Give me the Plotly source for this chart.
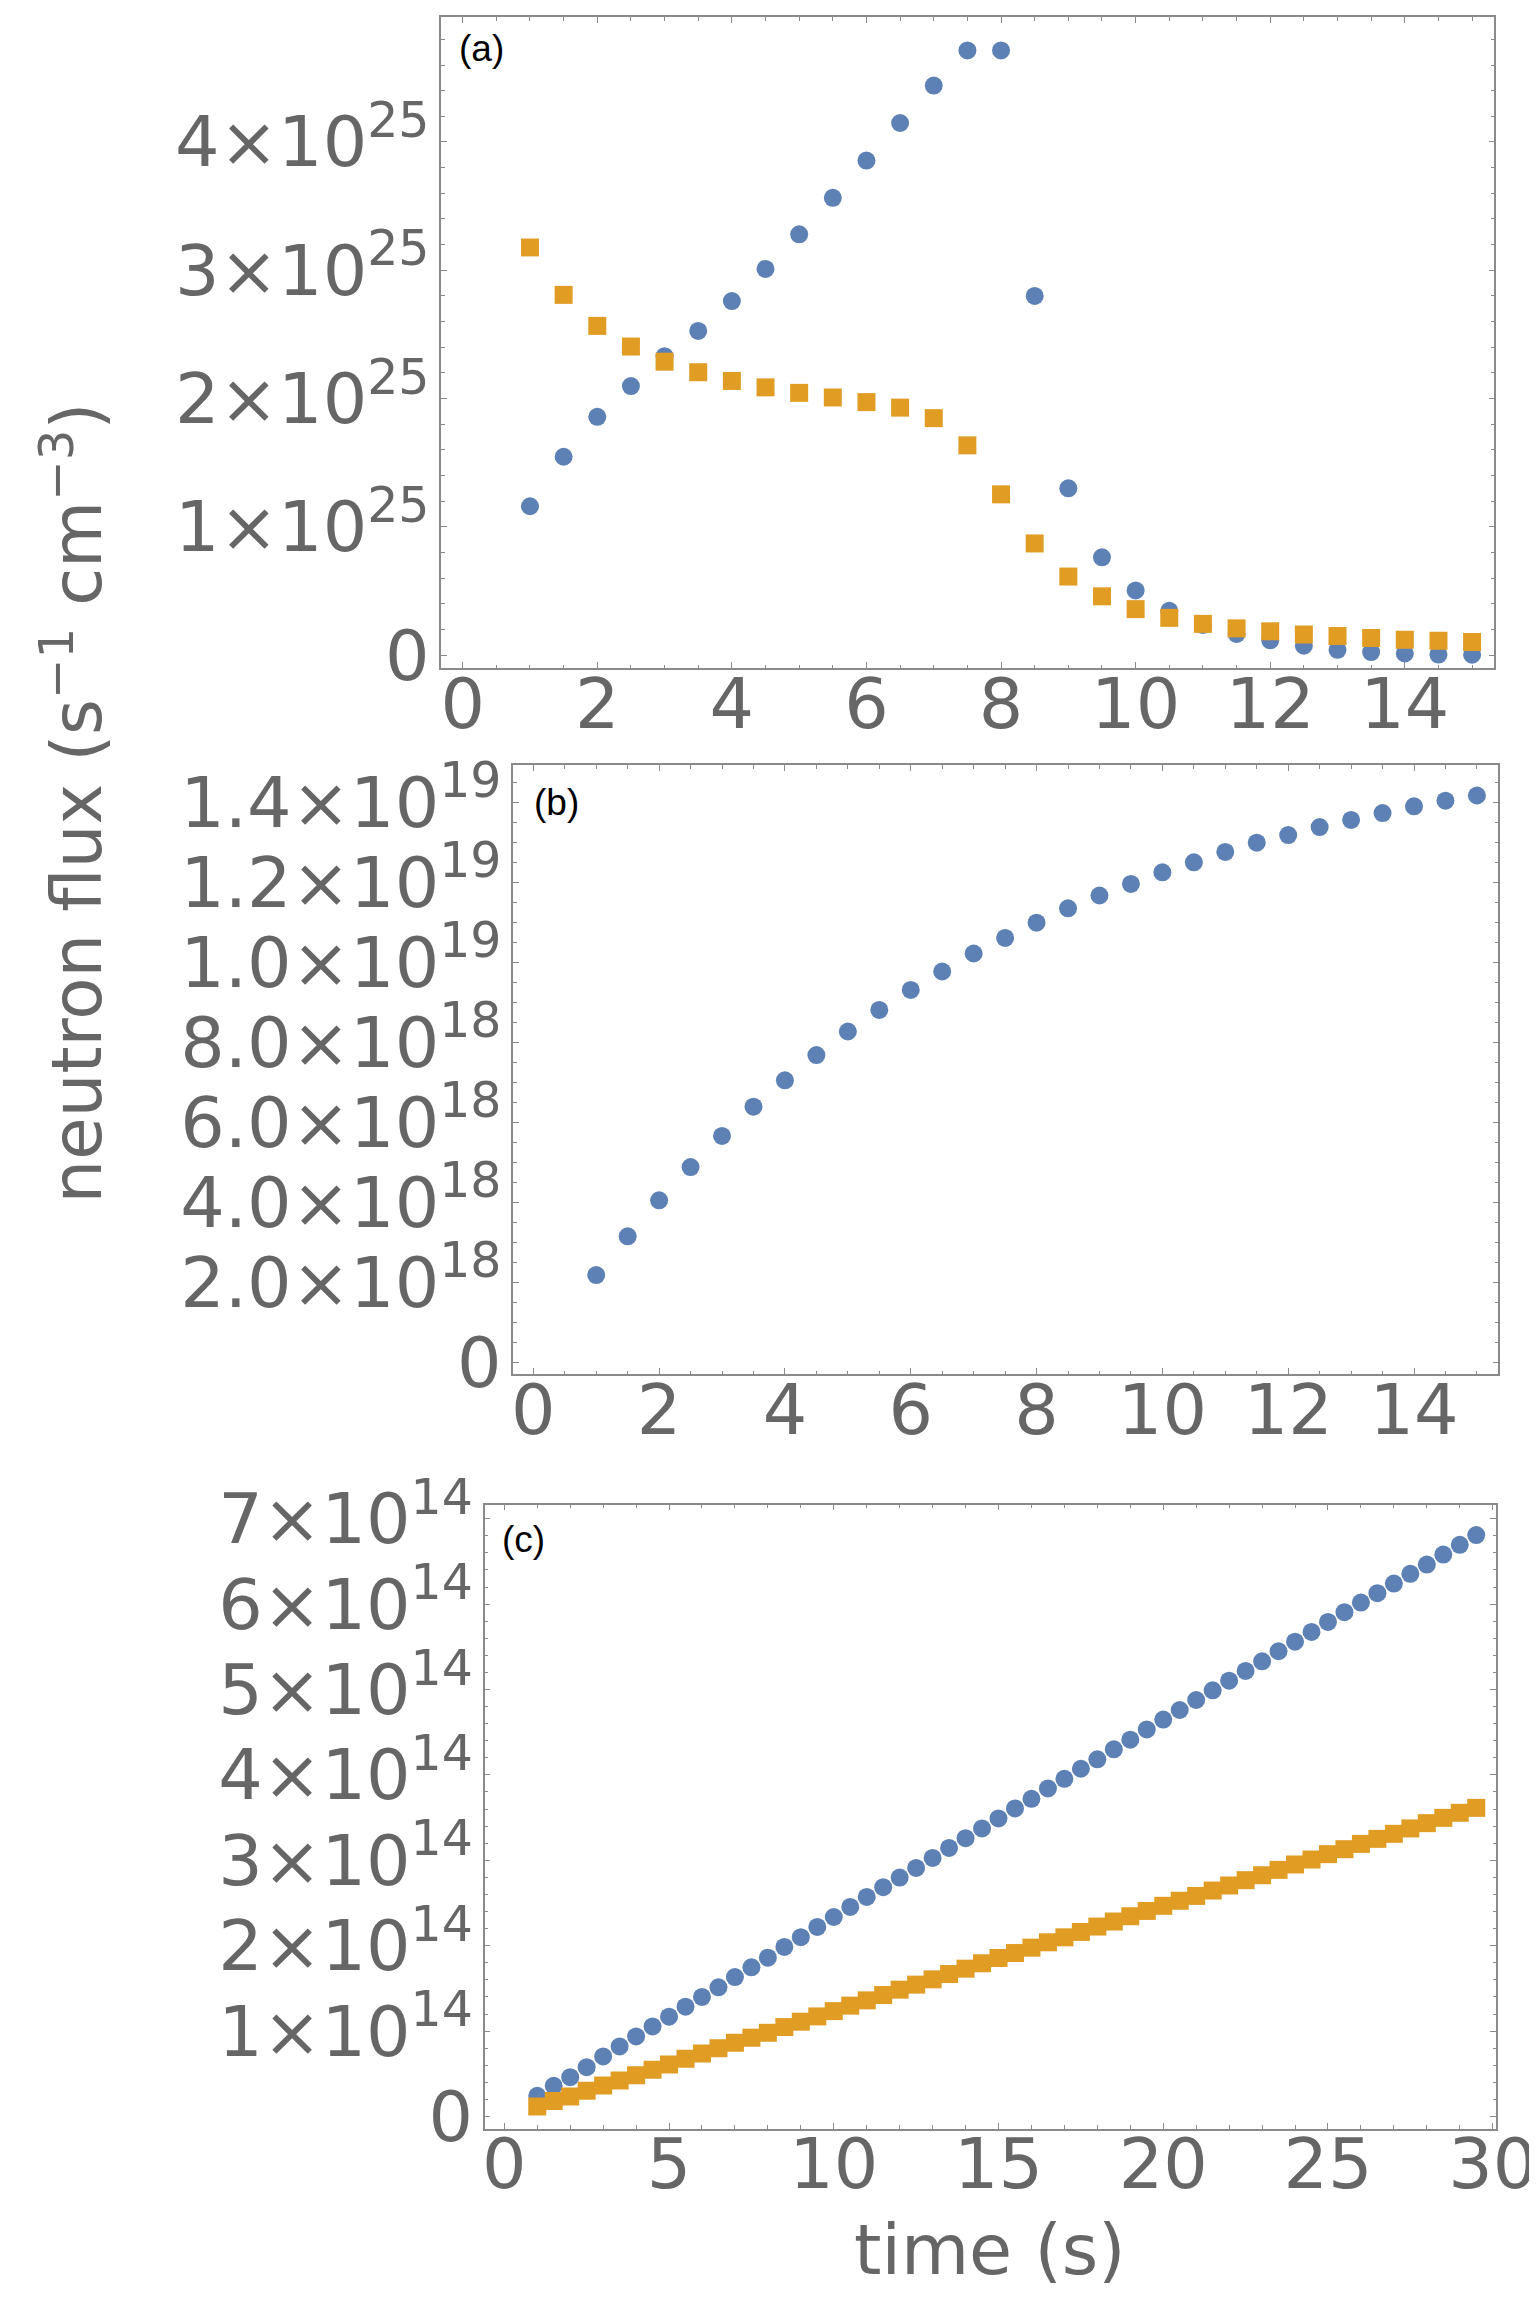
import plotly.graph_objects as go

W, H = 1537, 2303

# ---------------- data ----------------
t_ab = [1 + 0.5 * i for i in range(29)]  # 1 .. 15 s
# panel (a)  (units of 1e25)
a_blue = [1.16, 1.546, 1.857, 2.097, 2.33, 2.527, 2.76, 3.01, 3.28, 3.565, 3.855, 4.148,
          4.44, 4.714, 4.714, 2.80, 1.30, 0.762, 0.504, 0.345, 0.235, 0.165, 0.115, 0.073,
          0.041, 0.023, 0.012, 0.004, 0.003]
a_orange = [3.178, 2.808, 2.566, 2.405, 2.287, 2.205, 2.137, 2.087, 2.044, 2.008, 1.972,
            1.929, 1.847, 1.635, 1.253, 0.87, 0.612, 0.458, 0.358, 0.29, 0.243, 0.208,
            0.185, 0.161, 0.148, 0.132, 0.119, 0.111, 0.101]
# panel (b)  (units of 1e18)
b_blue = [2.18, 3.15, 4.05, 4.88, 5.66, 6.39, 7.05, 7.68, 8.27, 8.81, 9.31, 9.77, 10.22,
          10.61, 10.99, 11.35, 11.67, 11.96, 12.25, 12.5, 12.76, 12.99, 13.18, 13.38,
          13.56, 13.73, 13.9, 14.04, 14.17]
# panel (c)  (units of 1e14)
t_c = [1 + 0.5 * i for i in range(58)]  # 1 .. 29.5 s
c_blue = [0.243, 0.36, 0.46, 0.578, 0.703, 0.82, 0.938, 1.055, 1.169, 1.286, 1.40, 1.512,
          1.633, 1.747, 1.86, 1.985, 2.10,
          2.22, 2.336, 2.454, 2.571, 2.685, 2.798, 2.911, 3.028, 3.145, 3.259, 3.373, 3.49,
          3.607, 3.72, 3.842, 3.954, 4.072, 4.182, 4.299, 4.412, 4.533, 4.648,
          4.76, 4.877, 4.99, 5.103, 5.217, 5.33, 5.448, 5.56, 5.674, 5.791, 5.905, 6.018,
          6.128, 6.24, 6.354, 6.463, 6.58, 6.694, 6.808]
c_orange = [0.117, 0.18, 0.234, 0.30, 0.363, 0.422, 0.484, 0.547, 0.61, 0.676, 0.739, 0.80,
            0.864, 0.923, 0.98, 1.047, 1.11,
            1.172, 1.234, 1.298, 1.36, 1.422, 1.485, 1.544, 1.606, 1.668, 1.731, 1.794,
            1.856, 1.914, 1.977, 2.04, 2.098, 2.161, 2.224, 2.283, 2.345, 2.407, 2.467,
            2.526, 2.583, 2.646, 2.705, 2.767, 2.825, 2.888, 2.951, 3.009, 3.072, 3.13,
            3.192, 3.251, 3.31, 3.373, 3.435, 3.497, 3.556, 3.614]

# tick labels
a_yticks = [0, 1e25, 2e25, 3e25, 4e25]
a_ytext = ["0", "1×10<sup>25</sup>", "2×10<sup>25</sup>", "3×10<sup>25</sup>", "4×10<sup>25</sup>"]
b_yticks = [0, 2e18, 4e18, 6e18, 8e18, 1e19, 1.2e19, 1.4e19]
b_ytext = ["0", "2.0×10<sup>18</sup>", "4.0×10<sup>18</sup>", "6.0×10<sup>18</sup>",
           "8.0×10<sup>18</sup>", "1.0×10<sup>19</sup>", "1.2×10<sup>19</sup>", "1.4×10<sup>19</sup>"]
c_yticks = [0, 1e14, 2e14, 3e14, 4e14, 5e14, 6e14, 7e14]
c_ytext = ["0"] + [f"{k}×10<sup>14</sup>" for k in range(1, 8)]

BLUE = "#5E81B5"
ORANGE = "#E19C24"
GRAY_TXT = "#666666"
FRAME = "#8a8a8a"
TICKFONT = dict(family="DejaVu Sans", size=70, color=GRAY_TXT)

fig = go.Figure()

def mk(x, y, color, symbol, xa, ya):
    return go.Scatter(x=x, y=y, mode="markers", xaxis=xa, yaxis=ya, showlegend=False,
                      marker=dict(color=color, symbol=symbol, size=18, line=dict(width=0)))

fig.add_trace(mk(t_ab, [v * 1e25 for v in a_blue], BLUE, "circle", "x", "y"))
fig.add_trace(mk(t_ab, [v * 1e25 for v in a_orange], ORANGE, "square", "x", "y"))
fig.add_trace(mk(t_ab, [v * 1e18 for v in b_blue], BLUE, "circle", "x2", "y2"))
fig.add_trace(mk(t_c, [v * 1e14 for v in c_blue], BLUE, "circle", "x3", "y3"))
fig.add_trace(mk(t_c, [v * 1e14 for v in c_orange], ORANGE, "square", "x3", "y3"))

def xdom(l, r):
    return [l / W, r / W]

def ydom(t, b):
    return [1 - b / H, 1 - t / H]

def xaxis(dom, rng, dtick, mdtick, anchor):
    return dict(domain=dom, range=rng, anchor=anchor, tickmode="linear", tick0=0, dtick=dtick,
                ticks="inside", ticklen=6, tickwidth=1.2, tickcolor=FRAME, automargin=False,
                showline=True, linecolor=FRAME, linewidth=1.5, mirror="allticks",
                showgrid=False, zeroline=False, tickfont=TICKFONT, ticklabelstandoff=-26,
                minor=dict(dtick=mdtick, tick0=0, ticks="inside", ticklen=3.5,
                           tickwidth=1, tickcolor=FRAME, showgrid=False))

def yaxis(dom, rng, vals, text, mdtick, anchor):
    return dict(domain=dom, range=rng, anchor=anchor, tickmode="array", tickvals=vals,
                ticktext=text, ticks="inside", ticklen=6, tickwidth=1.2, tickcolor=FRAME,
                automargin=False,
                showline=True, linecolor=FRAME, linewidth=1.5, mirror="allticks",
                showgrid=False, zeroline=False, tickfont=TICKFONT, ticklabelstandoff=-4,
                minor=dict(dtick=mdtick, tick0=0, ticks="inside", ticklen=3.5,
                           tickwidth=1, tickcolor=FRAME, showgrid=False))

fig.update_layout(
    width=W, height=H, autosize=False,
    margin=dict(l=0, r=0, t=0, b=0, pad=0),
    paper_bgcolor="white", plot_bgcolor="white",
    xaxis=xaxis(xdom(433.3, 1486.3), [-0.318, 15.33], 2, 0.5, "y"),
    yaxis=yaxis(ydom(9.3, 660), [-0.101e25, 4.972e25], a_yticks, a_ytext, 0.2e25, "x"),
    xaxis2=xaxis(xdom(505.3, 1490.3), [-0.318, 15.34], 2, 0.5, "y2"),
    yaxis2=yaxis(ydom(757.3, 1366), [-0.2925e18, 14.925e18], b_yticks, b_ytext, 0.5e18, "x2"),
    xaxis3=xaxis(xdom(476.7, 1488), [-0.595, 30.1], 5, 1, "y3"),
    yaxis3=yaxis(ydom(1496.7, 2120.7), [-0.143e14, 7.164e14], c_yticks, c_ytext, 0.2e14, "x3"),
)

ann = [
    dict(text="(a)", x=449 / W, y=1 - 40 / H),
    dict(text="(b)", x=524 / W, y=1 - 795 / H),
    dict(text="(c)", x=492 / W, y=1 - 1531 / H),
]
for a in ann:
    fig.add_annotation(xref="paper", yref="paper", xanchor="left", yanchor="middle",
                       showarrow=False, font=dict(family="Liberation Sans", size=37, color="black"),
                       **a)

fig.add_annotation(xref="paper", yref="paper", x=64 / W, y=1 - 795.5 / H,
                   xanchor="center", yanchor="middle", textangle=-90, showarrow=False,
                   text="neutron flux (s<sup>−1</sup> cm<sup>−3</sup>)",
                   font=dict(family="DejaVu Sans", size=69, color=GRAY_TXT))
fig.add_annotation(xref="paper", yref="paper", x=982 / W, y=1 - 2242 / H,
                   xanchor="center", yanchor="middle", showarrow=False,
                   text="time (s)",
                   font=dict(family="DejaVu Sans", size=70, color=GRAY_TXT))

fig.write_html("out.html")
